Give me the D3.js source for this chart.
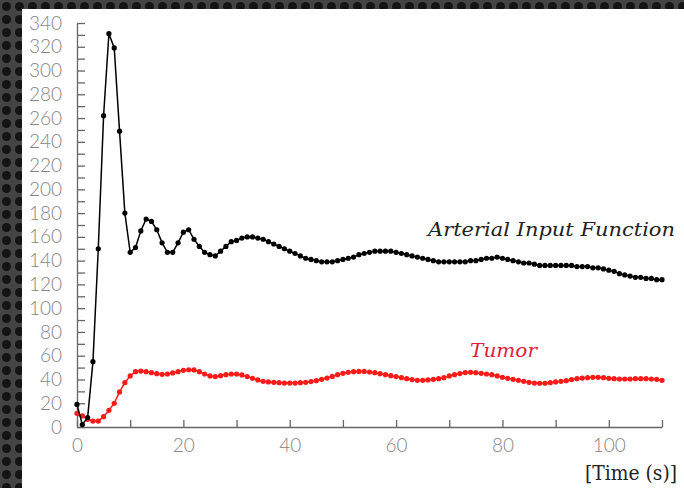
<!DOCTYPE html>
<html>
<head>
<meta charset="utf-8">
<script src="https://cdn.jsdelivr.net/npm/d3@7"></script>
<style>
    html, body { margin: 0; padding: 0; background: #2b2b2b; }
    svg { display: block; }
</style>
</head>
<body>
<div id="chart"></div>
<script>
// time samples, one per second
const times = d3.range(0, 111);

// Arterial Input Function (black)
const aifValues = [
    19, 2, 8, 55, 150, 262, 331, 319, 249, 180,
    147, 151, 165, 175, 173, 166, 155, 147, 147, 155,
    164, 166, 158, 152, 147, 145, 144, 148, 152, 156,
    157, 159, 160, 160, 159, 158, 156, 154, 152, 150,
    148, 146, 144, 142, 141, 140, 139, 139, 139, 140,
    141, 142, 143, 145, 146, 147, 148, 148, 148, 148,
    147, 146, 145, 144, 143, 142, 141, 140, 139, 139,
    139, 139, 139, 139, 140, 140, 141, 142, 142, 143,
    142, 141, 140, 139, 138, 138, 137, 136, 136, 136,
    136, 136, 136, 136, 135, 135, 135, 134, 134, 133,
    132, 131, 129, 128, 127, 126, 126, 125, 125, 124,
    124
];

// Tumor (red)
const tumorValues = [
    11.5, 9.3, 6.5, 5, 5, 8.7, 14, 20, 29.5, 37.3,
    43, 46.6, 47.1, 46.6, 45.7, 44.9, 44.3, 44.6, 45.5, 46.6,
    47.7, 48.2, 48, 46.6, 44.6, 43, 42.4, 43.2, 44, 44.6,
    44.6, 43.8, 42.4, 41, 39.6, 38.4, 37.9, 37.6, 37.3, 37,
    37, 37, 37.3, 37.6, 38.2, 39, 40.1, 41.2, 42.6, 44,
    45.2, 46, 46.6, 46.8, 46.8, 46.3, 45.7, 44.9, 44, 43.2,
    42.4, 41.5, 40.7, 39.9, 39.3, 39.3, 39.6, 40.1, 40.7, 41.5,
    43, 44, 45, 45.8, 46, 45.7, 45.2, 44.6, 44, 43,
    41.8, 41, 40.1, 39.3, 38.4, 37.6, 37, 36.8, 36.8, 37.3,
    37.9, 38.4, 39, 39.9, 40.7, 41.2, 41.5, 41.8, 41.8, 41.5,
    41, 40.7, 40.4, 40.4, 40.4, 40.7, 40.7, 40.7, 40.4, 40.1,
    39.3
];

const yTicks = d3.range(0, 341, 10);
const xTicks = d3.range(0, 111, 10);

const width = 684, height = 488;

const svg = d3.select("#chart").append("svg")
    .attr("width", width)
    .attr("height", height);

// dotted dark frame
const pattern = svg.append("defs").append("pattern")
    .attr("id", "holes")
    .attr("width", 13).attr("height", 13)
    .attr("patternUnits", "userSpaceOnUse");
pattern.append("rect").attr("width", 13).attr("height", 13).attr("fill", "#444");
pattern.append("circle").attr("cx", 6.5).attr("cy", 6.5).attr("r", 4.5).attr("fill", "#141414");

svg.append("rect").attr("width", width).attr("height", height).attr("fill", "url(#holes)");
svg.append("rect")
    .attr("x", 22).attr("y", 9)
    .attr("width", width - 22).attr("height", height - 9)
    .attr("fill", "#fff");

const x = d3.scaleLinear().domain([0, 110]).range([77, 662]);
const y = d3.scaleLinear().domain([0, 340]).range([427, 23]);

const tickFont = "Lato, 'DejaVu Sans', sans-serif";

const yAxis = svg.append("g")
    .attr("transform", `translate(${x(0)},0)`)
    .call(d3.axisLeft(y)
        .tickValues(yTicks)
        .tickSizeInner(-8)
        .tickSizeOuter(0)
        .tickPadding(15)
        .tickFormat(d => d % 20 === 0 ? d : ""));

const xAxis = svg.append("g")
    .attr("transform", `translate(0,${y(0)})`)
    .call(d3.axisBottom(x)
        .tickValues(xTicks)
        .tickSizeInner(-7)
        .tickSizeOuter(0)
        .tickPadding(12)
        .tickFormat(d => d % 20 === 0 && d <= 100 ? d : ""));

[yAxis, xAxis].forEach(ax => {
    ax.select(".domain").attr("stroke", "#666").attr("stroke-width", 1.3);
    ax.selectAll(".tick line").attr("stroke", "#666").attr("stroke-width", 1.3);
    ax.selectAll(".tick text")
        .attr("fill", "#858585")
        .style("font-family", tickFont)
        .style("font-weight", 300)
        .style("font-size", "19px");
});

function drawSeries(values, color) {
    const pts = times.map((t, i) => [t, values[i]]);
    svg.append("path")
        .datum(pts)
        .attr("fill", "none")
        .attr("stroke", color)
        .attr("stroke-width", 1.5)
        .attr("d", d3.line().x(d => x(d[0])).y(d => y(d[1])));
    svg.append("g")
        .selectAll("circle")
        .data(pts)
        .join("circle")
        .attr("cx", d => x(d[0]))
        .attr("cy", d => y(d[1]))
        .attr("r", 2.6)
        .attr("fill", color);
}

drawSeries(tumorValues, "#ff1a1a");
drawSeries(aifValues, "#000");

const serif = "'DejaVu Serif', 'Liberation Serif', serif";

svg.append("text")
    .attr("x", 428).attr("y", 236)
    .attr("textLength", 247).attr("lengthAdjust", "spacingAndGlyphs")
    .style("font-family", serif).style("font-style", "italic").style("font-size", "19px")
    .attr("fill", "#222")
    .text("Arterial Input Function");

svg.append("text")
    .attr("x", 470).attr("y", 357)
    .attr("textLength", 67).attr("lengthAdjust", "spacingAndGlyphs")
    .style("font-family", serif).style("font-style", "italic").style("font-size", "19px")
    .attr("fill", "#e0203c")
    .text("Tumor");

svg.append("text")
    .attr("x", 585).attr("y", 480)
    .attr("textLength", 92).attr("lengthAdjust", "spacingAndGlyphs")
    .style("font-family", serif).style("font-size", "20px")
    .attr("fill", "#222")
    .text("[Time (s)]");
</script>
</body>
</html>
